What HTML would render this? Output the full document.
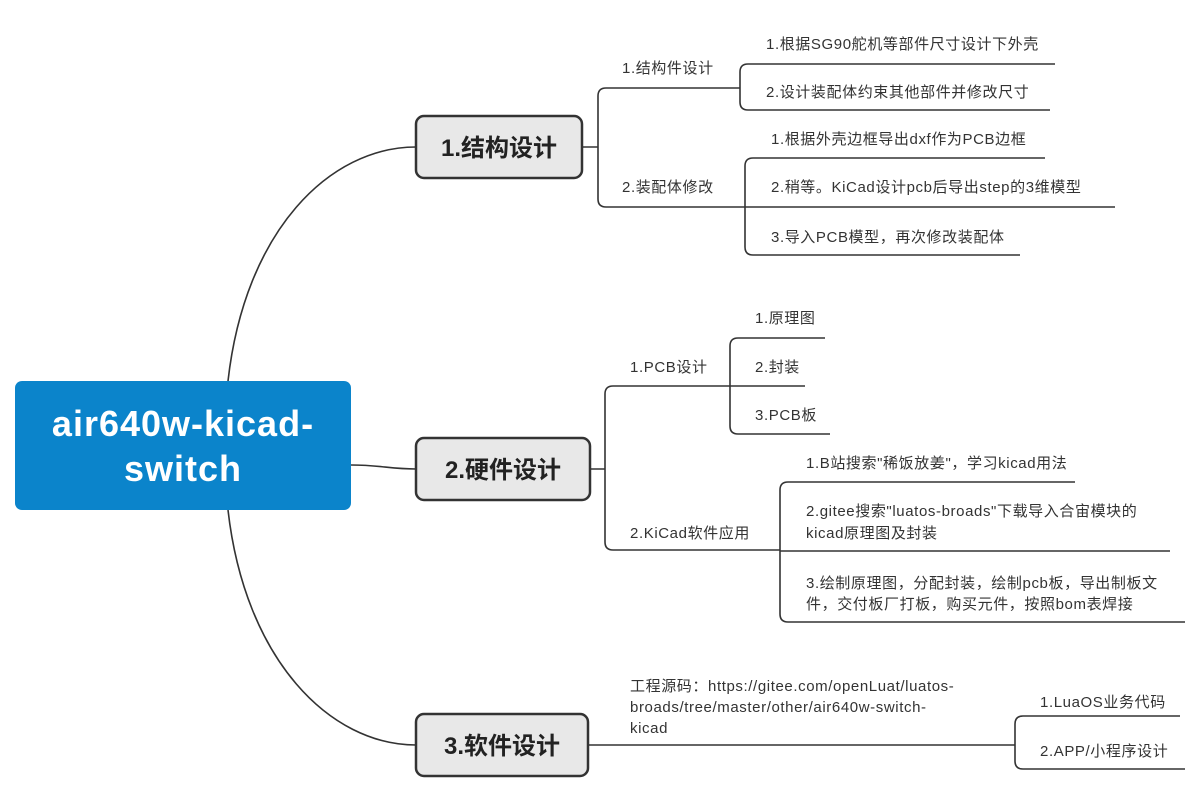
<!DOCTYPE html>
<html><head><meta charset="utf-8"><style>
html,body{margin:0;padding:0;background:#fff;}
svg{display:block;}
text{font-family:"Liberation Sans","Noto Sans CJK SC",sans-serif;fill:#333;}
.t{font-size:15px;letter-spacing:0.6px;}
.b{font-size:24px;font-weight:bold;fill:#222;}
</style></head><body>
<svg width="1200" height="803" viewBox="0 0 1200 803" xmlns="http://www.w3.org/2000/svg">
<g fill="none" stroke="#333" stroke-width="1.6">
<path d="M228,381 C245,230 330,147 416,147"/>
<path d="M228,510 C245,660 330,745 416,745"/>
<path d="M351,465 C380,465 390,469 416,469"/>
<path d="M582,147 H598 M740,88 H606 Q598,88 598,96 V199 Q598,207 606,207 H745"/>
<path d="M1055,64 H748 Q740,64 740,72 V102 Q740,110 748,110 H1050"/>
<path d="M1045,158 H753 Q745,158 745,166 V247 Q745,255 753,255 H1020 M745,207 H1115"/>
<path d="M590,469 H605 M730,386 H613 Q605,386 605,394 V542 Q605,550 613,550 H780"/>
<path d="M825,338 H738 Q730,338 730,346 V426 Q730,434 738,434 H830 M730,386 H805"/>
<path d="M1075,482 H788 Q780,482 780,490 V614 Q780,622 788,622 H1185 M780,551 H1170"/>
<path d="M588,745 H1015"/>
<path d="M1180,716 H1023 Q1015,716 1015,724 V761 Q1015,769 1023,769 H1185"/>
</g>
<rect x="15" y="381" width="336" height="129" rx="7" fill="#0b84cb"/>
<text x="183" y="436" text-anchor="middle" style="font-size:36px;font-weight:bold;fill:#fff;letter-spacing:1px">air640w-kicad-</text>
<text x="183" y="481" text-anchor="middle" style="font-size:36px;font-weight:bold;fill:#fff;letter-spacing:1px">switch</text>
<rect x="416" y="116" width="166" height="62" rx="8" fill="#e8e8e8" stroke="#333" stroke-width="2.5"/>
<text class="b" x="499" y="156" text-anchor="middle">1.结构设计</text>
<rect x="416" y="438" width="174" height="62" rx="8" fill="#e8e8e8" stroke="#333" stroke-width="2.5"/>
<text class="b" x="503" y="478" text-anchor="middle">2.硬件设计</text>
<rect x="416" y="714" width="172" height="62" rx="8" fill="#e8e8e8" stroke="#333" stroke-width="2.5"/>
<text class="b" x="502" y="754" text-anchor="middle">3.软件设计</text>
<text class="t" x="622" y="73">1.结构件设计</text>
<text class="t" x="766" y="49">1.根据SG90舵机等部件尺寸设计下外壳</text>
<text class="t" x="766" y="97">2.设计装配体约束其他部件并修改尺寸</text>
<text class="t" x="622" y="192">2.装配体修改</text>
<text class="t" x="771" y="144">1.根据外壳边框导出dxf作为PCB边框</text>
<text class="t" x="771" y="192">2.稍等。KiCad设计pcb后导出step的3维模型</text>
<text class="t" x="771" y="242">3.导入PCB模型，再次修改装配体</text>
<text class="t" x="630" y="372">1.PCB设计</text>
<text class="t" x="755" y="323">1.原理图</text>
<text class="t" x="755" y="372">2.封装</text>
<text class="t" x="755" y="420">3.PCB板</text>
<text class="t" x="630" y="538">2.KiCad软件应用</text>
<text class="t" x="806" y="468">1.B站搜索"稀饭放姜"，学习kicad用法</text>
<text class="t" x="806" y="516">2.gitee搜索"luatos-broads"下载导入合宙模块的</text>
<text class="t" x="806" y="538">kicad原理图及封装</text>
<text class="t" x="806" y="588">3.绘制原理图，分配封装，绘制pcb板，导出制板文</text>
<text class="t" x="806" y="609">件，交付板厂打板，购买元件，按照bom表焊接</text>
<text class="t" x="630" y="691">工程源码：https://gitee.com/openLuat/luatos-</text>
<text class="t" x="630" y="712">broads/tree/master/other/air640w-switch-</text>
<text class="t" x="630" y="733">kicad</text>
<text class="t" x="1040" y="707">1.LuaOS业务代码</text>
<text class="t" x="1040" y="756">2.APP/小程序设计</text>
</svg>
</body></html>
